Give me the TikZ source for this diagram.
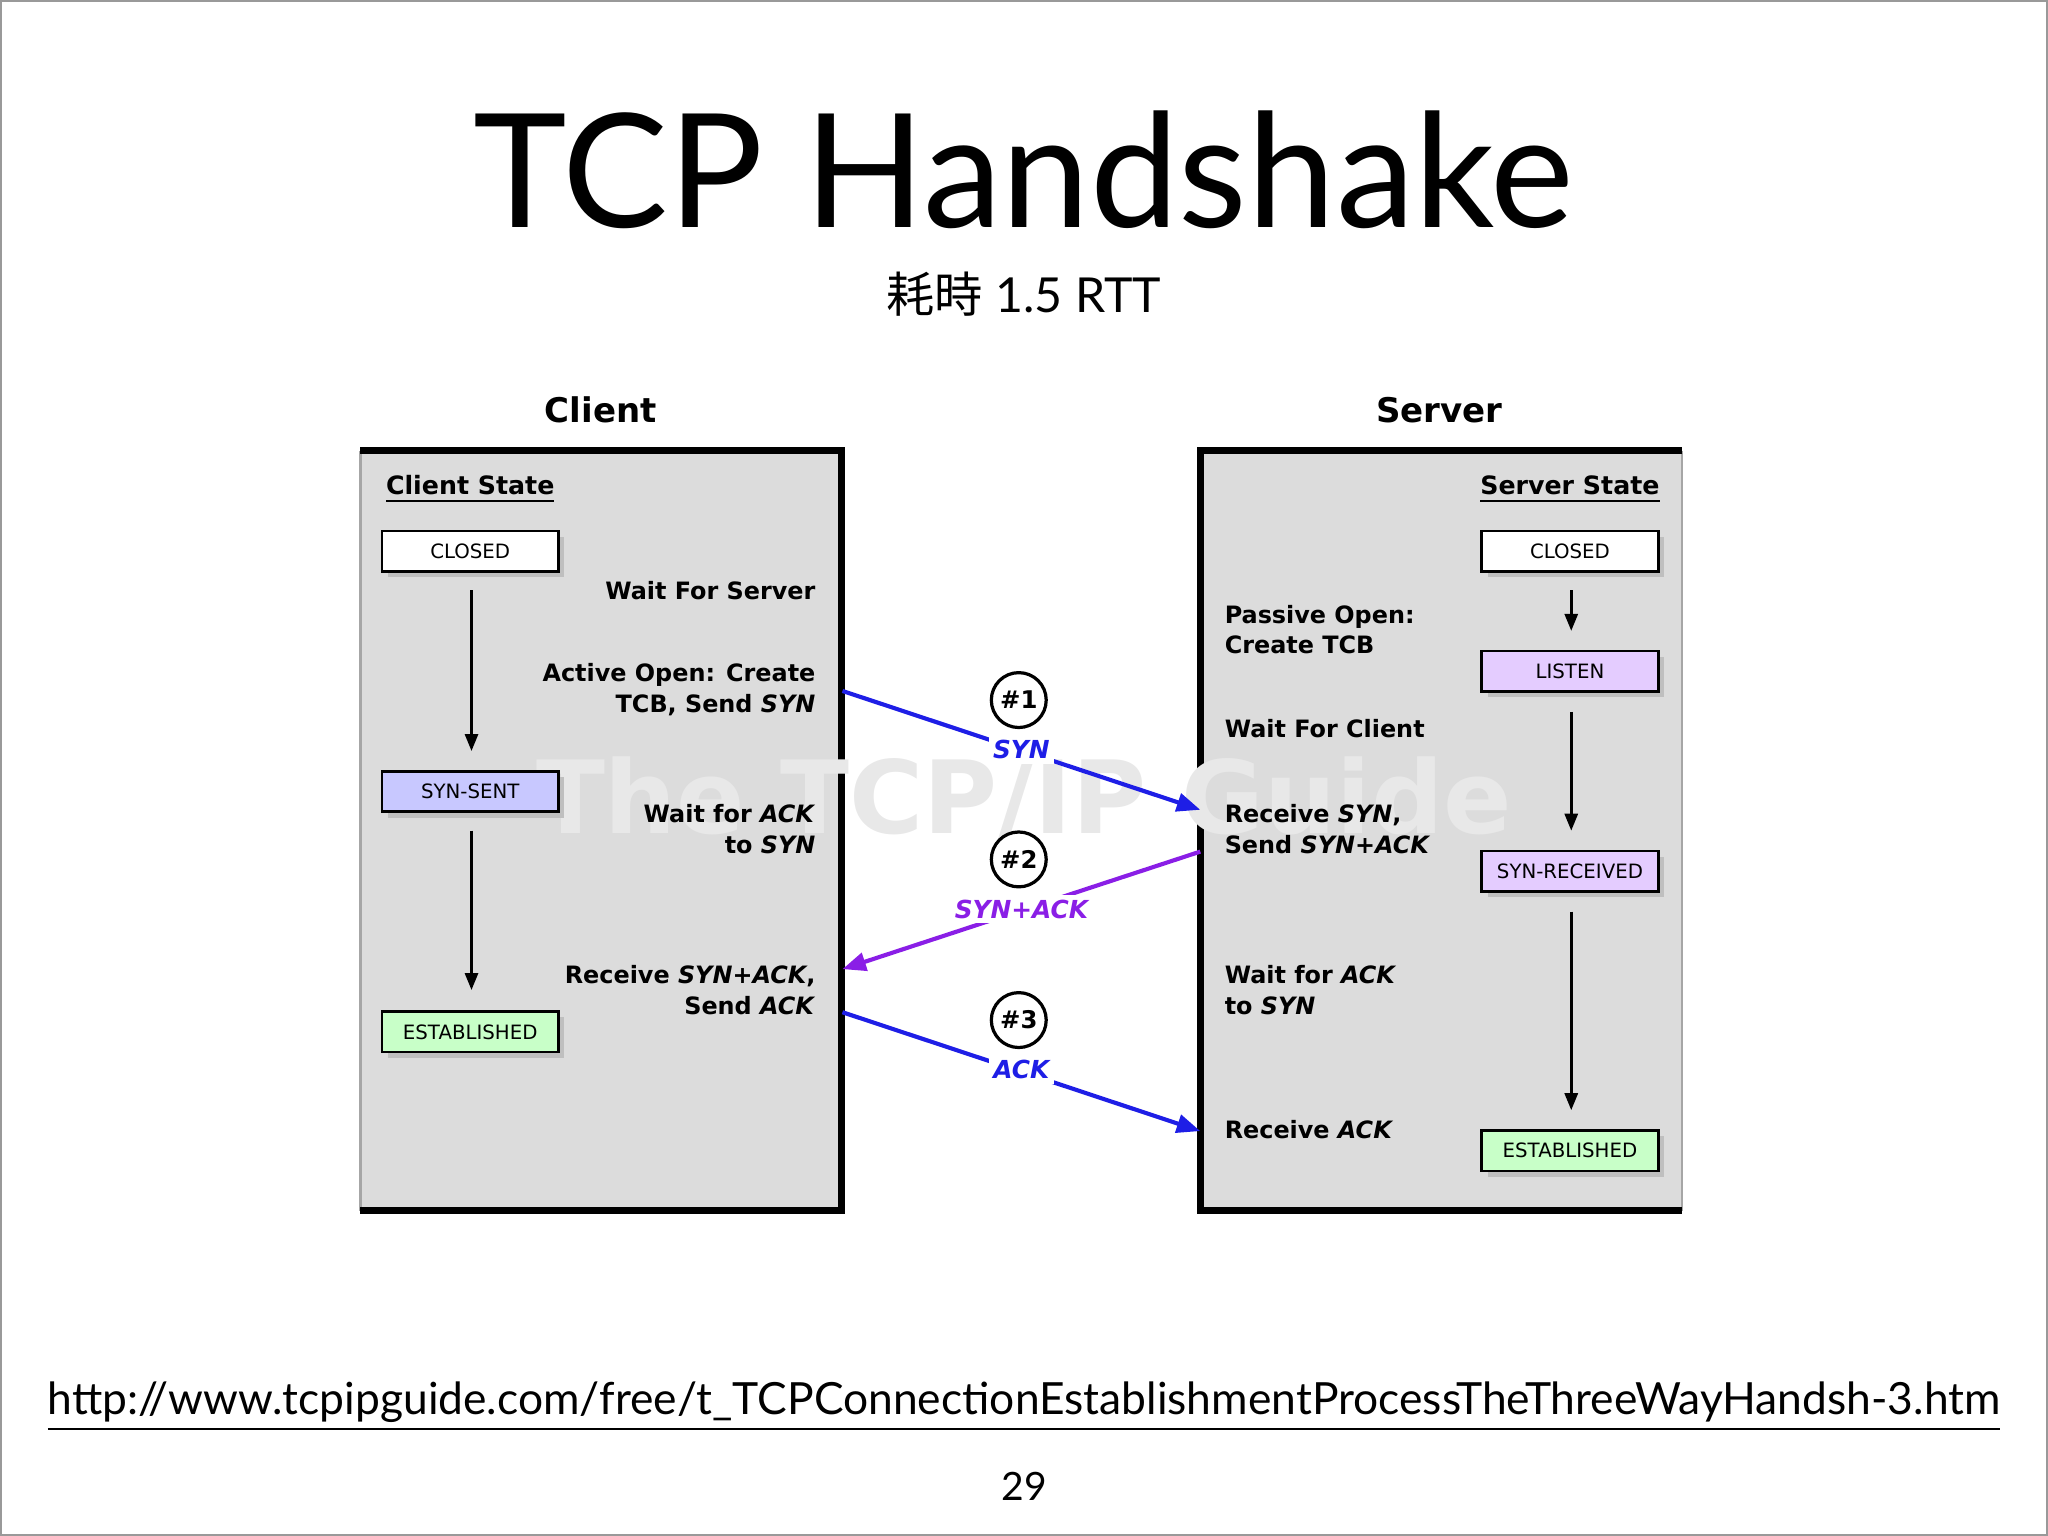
\documentclass[tikz,border=0pt]{standalone}
\usepackage{fontspec}
\setmainfont{Lato}
\newfontfamily\djv{DejaVu Sans}
\newfontfamily\cjk{Noto Sans CJK SC}
\usetikzlibrary{arrows.meta}
\definecolor{boxgray}{HTML}{DCDCDC}
\definecolor{synsent}{HTML}{C8C8FF}
\definecolor{listen}{HTML}{E4CCFF}
\definecolor{estab}{HTML}{C8FFC8}
\definecolor{ablue}{HTML}{1E1EE6}
\definecolor{apurple}{HTML}{8A1EE6}
\begin{document}
\begin{tikzpicture}[x=0.01cm,y=-0.01cm,
  txt/.style={font=\djv\bfseries\fontsize{5.2}{6.7}\selectfont, inner sep=0pt},
  st/.style={draw, line width=0.6pt, minimum width=1.35cm, minimum height=0.31cm, inner sep=0pt,
    font=\djv\fontsize{4.3}{5}\selectfont},
  varr/.style={-{Triangle[length=1.3mm,width=1mm]}, line width=0.6pt},
  msg/.style={-{Triangle[length=1.8mm,width=1.4mm]}, line width=0.9pt},
  circ/.style={circle, draw, line width=0.7pt, minimum size=0.42cm, inner sep=0pt, fill=white,
    font=\djv\bfseries\fontsize{5.3}{6}\selectfont},
  lab/.style={fill=white, inner sep=1pt, font=\djv\bfseries\itshape\fontsize{5.4}{6}\selectfont}]
\useasboundingbox (0,0) rectangle (1568,1176);
\draw[black!40, line width=0.5pt] (1,1) rectangle (1567,1175);
\node (title) at (784,130) {\fontsize{34.5}{40}\selectfont TCP Handshake};
\node (sub) at (784,225) {\fontsize{10.5}{13}\selectfont{\cjk 耗時} 1.5 RTT};
\node[txt, font=\djv\bfseries\fontsize{7.4}{9}\selectfont] (cl) at (460,314) {Client};
\node[txt, font=\djv\bfseries\fontsize{7.4}{9}\selectfont] (sv) at (1102,314) {Server};
% boxes
\fill[boxgray] (276,345) rectangle (644,927);
\fill[boxgray] (919,345) rectangle (1288,927);
\draw[black!35, line width=0.5pt] (276,345) -- (276,927);
\draw[black!35, line width=0.5pt] (1288,345) -- (1288,927);
\draw[line width=1.5pt] (276,345) -- (644,345) -- (644,927) -- (276,927);
\draw[line width=1.5pt] (1288,345) -- (919,345) -- (919,927) -- (1288,927);
% watermark
\node[text=black!9, font=\djv\bfseries\fontsize{22}{24}\selectfont] (wm) at (784,612) {The TCP/IP Guide};
\node[txt, font=\djv\bfseries\fontsize{5.5}{6.5}\selectfont] (cs) at (360,375) {\underline{Client State}};
\node[txt, font=\djv\bfseries\fontsize{5.5}{6.5}\selectfont] (ss) at (1202,375) {\underline{Server State}};
% state boxes with shadows
\foreach \n/\x/\y/\c/\t in {c1/360/422/white/CLOSED, c2/360/606/synsent/SYN-SENT, c3/360/790/estab/ESTABLISHED,
  s1/1202/422/white/CLOSED, s2/1202/514/listen/LISTEN, s3/1202/667/listen/SYN-RECEIVED, s4/1202/881/estab/ESTABLISHED}{
  \fill[black!25] (\x-63,\y-11) rectangle (\x+72,\y+20);
  \node[st, fill=\c] (\n) at (\x,\y) {\t};
}
\coordinate (a1) at (361,452); \coordinate (a2) at (361,575);
\coordinate (b1) at (361,636); \coordinate (b2) at (361,758);
\coordinate (d1) at (1203,452); \coordinate (d2) at (1203,483);
\coordinate (e1) at (1203,545); \coordinate (e2) at (1203,636);
\coordinate (f1) at (1203,698); \coordinate (f2) at (1203,850);
\draw[varr] (a1) -- (a2); \draw[varr] (b1) -- (b2);
\draw[varr] (d1) -- (d2); \draw[varr] (e1) -- (e2); \draw[varr] (f1) -- (f2);
% client texts
\node[txt, anchor=east, align=right] (t1) at (625,452) {Wait For Server};
\node[txt, anchor=east, align=right] (t2) at (625,528) {Active Open: Create\\TCB, Send \textit{SYN}};
\node[txt, anchor=east, align=right] (t3) at (625,635) {Wait for \textit{ACK}\\to \textit{SYN}};
\node[txt, anchor=east, align=right] (t4) at (625,758) {Receive \textit{SYN+ACK},\\Send \textit{ACK}};
% server texts
\node[txt, anchor=west, align=left] (u1) at (937,482) {Passive Open:\\Create TCB};
\node[txt, anchor=west, align=left] (u2) at (937,558) {Wait For Client};
\node[txt, anchor=west, align=left] (u3) at (937,635) {Receive \textit{SYN},\\Send \textit{SYN+ACK}};
\node[txt, anchor=west, align=left] (u4) at (937,758) {Wait for \textit{ACK}\\to \textit{SYN}};
\node[txt, anchor=west, align=left] (u5) at (937,865) {Receive \textit{ACK}};
% messages
\coordinate (m1a) at (645,529); \coordinate (m1b) at (919,620);
\coordinate (m2a) at (919,652); \coordinate (m2b) at (645,742);
\coordinate (m3a) at (645,775); \coordinate (m3b) at (919,866);
\draw[msg, ablue] (m1a) -- (m1b);
\draw[msg, apurple] (m2a) -- (m2b);
\draw[msg, ablue] (m3a) -- (m3b);
\node[lab, text=ablue] (l1) at (782,574) {SYN};
\node[lab, text=apurple] (l2) at (782,696) {SYN+ACK};
\node[lab, text=ablue] (l3) at (782,819) {ACK};
\node[circ] (n1) at (780,536) {\#1};
\node[circ] (n2) at (780,658) {\#2};
\node[circ] (n3) at (780,781) {\#3};
% footer
\node (url) at (784,1077) {\resizebox{14.94cm}{!}{\underline{http://www.tcpipguide.com/free/t\_TCPConnectionEstablishmentProcessTheThreeWayHandsh-3.htm}}};
\node (pg) at (784,1138) {\fontsize{8.5}{10}\selectfont 29};
\end{tikzpicture}
\end{document}
